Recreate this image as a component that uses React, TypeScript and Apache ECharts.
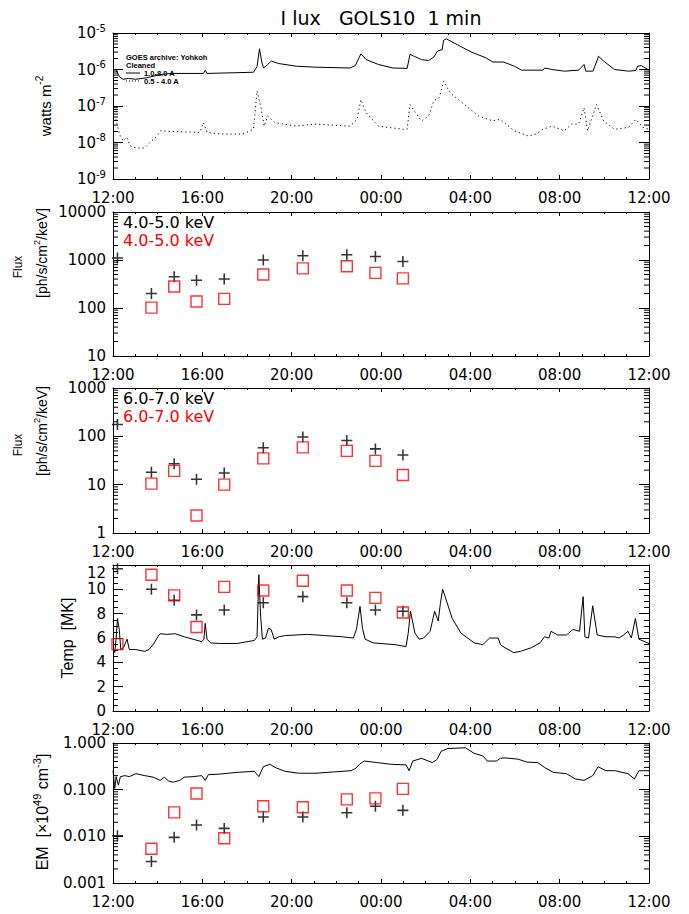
import React, { useEffect, useRef } from 'react';
import * as echarts from 'echarts';

// ---------- data (hours after 12:00 UT) ----------
const goesLong: [number, number][] = [
  [0, 9.6e-7], [0.13, 1.0e-6], [0.29, 6.3e-7], [0.45, 5.4e-7], [0.69, 5.7e-7], [1.01, 5.4e-7],
  [1.49, 5.9e-7], [2.13, 7.3e-7], [2.61, 7.8e-7], [4.05, 7.8e-7], [4.13, 9.6e-7], [4.21, 7.8e-7],
  [6.29, 8.4e-7], [6.45, 1.2e-6], [6.56, 3.7e-6], [6.66, 1.6e-6], [6.74, 1.1e-6], [6.93, 1.37e-6],
  [7.09, 1.7e-6], [7.41, 1.46e-6], [8.21, 1.23e-6], [9.01, 1.16e-6], [10.61, 1.1e-6], [10.85, 1.28e-6],
  [11.1, 2.7e-6], [11.33, 1.87e-6], [11.89, 1.37e-6], [12.53, 1.1e-6], [13.17, 1.07e-6], [13.3, 2.6e-6],
  [13.49, 2.3e-6], [13.81, 1.87e-6], [14.13, 1.76e-6], [14.37, 2.2e-6], [14.53, 3.2e-6], [14.74, 3.5e-6],
  [14.8, 6.3e-6], [14.93, 6.9e-6], [15.41, 4.8e-6], [16.05, 3.0e-6], [16.69, 2.1e-6], [17.01, 1.6e-6],
  [17.49, 1.6e-6], [17.97, 1.23e-6], [18.29, 9.6e-7], [19.25, 9.6e-7], [19.33, 1.1e-6], [19.65, 1.0e-6],
  [20.21, 9.0e-7], [20.85, 9.6e-7], [21.09, 1.37e-6], [21.17, 9.0e-7], [21.49, 9.0e-7], [21.74, 2.3e-6],
  [21.97, 1.7e-6], [22.45, 1.0e-6], [23.09, 9.0e-7], [23.41, 9.4e-7], [23.49, 1.23e-6], [23.65, 1.28e-6],
  [24.0, 9.6e-7],
];

const goesShort: [number, number][] = [
  [0, 3.5e-8], [0.13, 4.3e-8], [0.29, 1.7e-8], [0.45, 1.1e-8], [0.61, 1.4e-8], [0.77, 8.1e-9],
  [1.01, 7.1e-9], [1.41, 7.1e-9], [1.65, 1.0e-8], [1.97, 1.5e-8], [2.13, 2.1e-8], [2.61, 2.0e-8],
  [3.89, 1.9e-8], [4.05, 3.5e-8], [4.21, 1.9e-8], [4.85, 1.7e-8], [5.81, 1.7e-8], [6.29, 2.3e-8],
  [6.45, 2.6e-7], [6.61, 1.0e-7], [6.77, 2.8e-8], [6.93, 5.3e-8], [7.25, 3.5e-8], [8.21, 2.8e-8],
  [9.01, 3.2e-8], [10.61, 2.8e-8], [10.93, 4.3e-8], [11.1, 1.5e-7], [11.33, 6.6e-8], [11.89, 2.8e-8],
  [13.01, 2.3e-8], [13.17, 2.3e-8], [13.3, 1.1e-7], [13.49, 7.3e-8], [13.81, 3.9e-8], [14.13, 5.3e-8],
  [14.37, 1.4e-7], [14.61, 1.7e-7], [14.8, 4.8e-7], [15.09, 2.3e-7], [15.73, 1.1e-7], [16.37, 5.3e-8],
  [17.01, 3.9e-8], [17.33, 4.3e-8], [17.97, 2.1e-8], [18.61, 1.5e-8], [18.93, 1.7e-8], [19.25, 2.3e-8],
  [19.65, 2.8e-8], [20.21, 2.1e-8], [20.53, 3.2e-8], [20.85, 3.2e-8], [21.09, 9.0e-8], [21.25, 2.1e-8],
  [21.65, 1.1e-7], [21.97, 3.9e-8], [22.45, 2.3e-8], [23.09, 2.6e-8], [23.41, 4.3e-8], [23.73, 2.6e-8],
  [24.0, 2.3e-8],
];

const tempLine: [number, number][] = [
  [0, 5.05], [0.08, 4.8], [0.14, 6.0], [0.2, 7.6], [0.28, 6.7], [0.35, 5.05], [0.47, 5.2], [0.63, 5.9],
  [0.73, 5.05], [1.02, 5.05], [1.42, 4.9], [1.61, 5.05], [1.81, 5.5], [2.01, 6.1], [2.11, 6.35], [2.4, 6.3],
  [2.79, 6.35], [3.19, 6.1], [3.58, 5.9], [3.97, 5.7], [4.07, 5.9], [4.13, 7.2], [4.21, 5.9], [4.37, 5.6],
  [4.76, 5.55], [5.55, 5.55], [6.33, 5.8], [6.45, 6.1], [6.53, 11.2], [6.61, 7.8], [6.69, 5.9], [6.83, 6.0],
  [6.96, 6.8], [7.08, 6.7], [7.22, 5.9], [7.42, 6.1], [7.71, 6.2], [8.7, 6.3], [9.48, 6.2], [10.27, 6.1],
  [10.76, 6.0], [10.9, 6.7], [11.06, 8.6], [11.17, 6.8], [11.29, 5.9], [11.65, 5.6], [12.63, 5.45],
  [13.12, 5.3], [13.22, 6.4], [13.32, 8.2], [13.52, 6.4], [13.71, 5.9], [13.91, 6.0], [14.2, 6.55],
  [14.4, 8.2], [14.56, 7.4], [14.66, 8.85], [14.76, 10.0], [14.89, 9.3], [15.19, 7.6], [15.58, 6.4],
  [16.17, 5.6], [16.56, 5.45], [16.86, 6.0], [17.25, 6.0], [17.35, 5.45], [17.55, 5.2], [17.94, 4.8],
  [18.24, 4.9], [18.73, 5.2], [19.12, 5.6], [19.32, 6.1], [19.52, 6.0], [19.61, 6.55], [19.91, 6.25],
  [20.3, 6.25], [20.6, 6.7], [20.89, 6.55], [21.05, 9.4], [21.13, 6.1], [21.29, 6.0], [21.48, 8.65],
  [21.68, 6.25], [22.07, 6.1], [22.47, 6.1], [22.66, 6.0], [22.86, 6.25], [23.06, 6.55], [23.21, 6.0],
  [23.39, 7.6], [23.55, 5.9], [24.0, 5.55],
];

const emLine: [number, number][] = [
  [0, 0.255], [0.08, 0.106], [0.14, 0.19], [0.24, 0.125], [0.33, 0.19], [0.53, 0.2], [0.73, 0.19],
  [1.02, 0.22], [1.42, 0.2], [1.81, 0.185], [2.11, 0.158], [2.3, 0.185], [2.5, 0.152], [2.7, 0.145],
  [2.99, 0.158], [3.19, 0.185], [3.58, 0.19], [3.97, 0.2], [4.13, 0.158], [4.27, 0.21], [4.76, 0.215],
  [5.55, 0.235], [6.33, 0.247], [6.53, 0.19], [6.73, 0.31], [7.02, 0.35], [7.32, 0.29], [7.71, 0.247],
  [8.3, 0.225], [9.09, 0.225], [9.88, 0.24], [10.66, 0.255], [10.86, 0.285], [11.06, 0.36], [11.25, 0.41],
  [11.84, 0.38], [12.43, 0.35], [13.12, 0.34], [13.26, 0.255], [13.42, 0.41], [13.81, 0.47], [14.3, 0.38],
  [14.5, 0.44], [14.7, 0.67], [14.99, 0.76], [15.78, 0.79], [16.17, 0.6], [16.56, 0.53], [16.76, 0.41],
  [17.16, 0.41], [17.35, 0.47], [17.55, 0.48], [18.14, 0.45], [18.53, 0.39], [19.02, 0.38], [19.32, 0.3],
  [19.71, 0.235], [20.3, 0.22], [20.7, 0.17], [21.09, 0.158], [21.48, 0.2], [21.72, 0.31], [22.07, 0.255],
  [22.47, 0.255], [23.06, 0.22], [23.35, 0.17], [23.55, 0.255], [24.0, 0.255],
];

const obsHours = [0.2, 1.72, 2.74, 3.74, 4.98, 6.73, 8.5, 10.47, 11.75, 12.98];
const flux45Black = [1100, 200, 450, 380, 400, 1000, 1230, 1280, 1180, 930];
const flux45Red = [null, 102, 280, 137, 155, 500, 670, 740, 540, 415];
const flux67Black = [175, 18, 27, 13, 17.5, 58, 97, 82, 55, 41];
const flux67Red = [null, 10.5, 19.3, 2.3, 10, 35, 59, 50, 31, 15.8];
const tempBlack = [11.7, 10.0, 9.1, 7.9, 8.3, 8.9, 9.4, 8.9, 8.3, 8.2];
const tempRed = [5.5, 11.2, 9.5, 6.9, 10.2, 9.9, 10.7, 9.9, 9.3, 8.1];
const emBlack = [0.0103, 0.0029, 0.0095, 0.0175, 0.0148, 0.026, 0.026, 0.032, 0.044, 0.036];
const emRed = [null, 0.0054, 0.0326, 0.083, 0.0091, 0.044, 0.042, 0.062, 0.065, 0.104];

const xTickHours = [0, 4, 8, 12, 16, 20, 24];
const xTickLabels = ['12:00', '16:00', '20:00', '00:00', '04:00', '08:00', '12:00'];

// ---------- layout ----------
const LEFT = 113;
const RIGHT = 40;
const PANELS = [
  { top: 33, height: 146 },
  { top: 212, height: 144 },
  { top: 388, height: 145 },
  { top: 565, height: 146 },
  { top: 743, height: 140 },
];

const TICK_FONT = 'DejaVu Sans';
const TITLE_FONT = 'Liberation Sans';
const CROSS = 'path://M4.3,0H5.7V4.3H10V5.7H5.7V10H4.3V5.7H0V4.3H4.3Z';

function pairs(xs: number[], ys: (number | null)[]) {
  const out: [number, number][] = [];
  xs.forEach((x, i) => {
    const y = ys[i];
    if (y !== null && y !== undefined) out.push([x, y]);
  });
  return out;
}

function logMinor(minExp: number, maxExp: number) {
  const out: [number, number][] = [];
  for (let e = minExp; e < maxExp; e++) {
    for (let k = 2; k <= 9; k++) out.push([0, k * Math.pow(10, e)]);
  }
  return out;
}

export default function App() {
  const ref = useRef<HTMLDivElement>(null);

  useEffect(() => {
    if (!ref.current) return;
    const chart = echarts.init(ref.current, undefined, { renderer: 'svg' });

    const axisLine = { show: true, onZero: false, lineStyle: { color: '#000', width: 1 } };
    const xAxes: any[] = [];
    const yAxes: any[] = [];
    const grids: any[] = [];

    const yDefs: any[] = [
      {
        type: 'log', min: 1e-9, max: 1e-5,
        formatter: (v: number) => `{b|10}{s|${Math.round(Math.log10(v))}}`,
        rich: true,
      },
      { type: 'log', min: 10, max: 10000, formatter: (v: number) => String(Math.round(v)) },
      { type: 'log', min: 1, max: 1000, formatter: (v: number) => String(Math.round(v)) },
      { type: 'value', min: 0, max: 12, interval: 2, formatter: (v: number) => String(v), shiftEnds: true },
      { type: 'log', min: 0.001, max: 1, formatter: (v: number) => v.toFixed(3) },
    ];

    PANELS.forEach((p, i) => {
      grids.push({ left: LEFT, right: RIGHT, top: p.top, height: p.height, containLabel: false });
      const xBase = {
        type: 'value', gridIndex: i, min: 0, max: 24, interval: 4,
        axisLine, splitLine: { show: false },
        axisTick: { show: true, inside: true, length: 4, lineStyle: { color: '#000' } },
        minorTick: { show: true, splitNumber: 4, length: 2, lineStyle: { color: '#000' } },
      };
      xAxes.push({
        ...xBase, position: 'bottom',
        axisLabel: {
          show: true, margin: 11, color: '#000', fontFamily: TICK_FONT, fontSize: 15,
          formatter: (v: number) => xTickLabels[xTickHours.indexOf(Math.round(v))] ?? '',
        },
      });
      xAxes.push({ ...xBase, position: 'top', axisLabel: { show: false } });

      const d = yDefs[i];
      const yBase: any = {
        type: d.type, gridIndex: i, min: d.min, max: d.max,
        axisLine, splitLine: { show: false },
        axisTick: { show: true, inside: true, length: 10, lineStyle: { color: '#000' } },
      };
      if (d.type === 'log') yBase.logBase = 10;
      if (d.interval) {
        yBase.interval = d.interval;
        yBase.minorTick = { show: true, splitNumber: 4, length: 5, lineStyle: { color: '#000' } };
      }
      const label: any = {
        show: true, margin: 7, color: '#000', fontFamily: TICK_FONT, fontSize: 15, formatter: d.formatter,
      };
      if (d.shiftEnds) {
        label.verticalAlignMaxLabel = 'top';
      }
      if (d.rich) {
        label.rich = {
          b: { fontFamily: TICK_FONT, fontSize: 15, lineHeight: 20, color: '#000' },
          s: { fontFamily: TICK_FONT, fontSize: 10, lineHeight: 10, verticalAlign: 'top', color: '#000' },
        };
      }
      yAxes.push({ ...yBase, position: 'left', axisLabel: label });
      yAxes.push({ ...yBase, position: 'right', axisLabel: { show: false } });
    });

    const lineSeries = (idx: number, data: [number, number][], dotted = false) => ({
      type: 'line', xAxisIndex: idx * 2, yAxisIndex: idx * 2, data, symbol: 'none', silent: true,
      lineStyle: { color: '#000', width: 1, type: dotted ? [1.2, 3] : 'solid' },
      z: 2,
    });
    const crossSeries = (idx: number, data: [number, number][]) => ({
      type: 'scatter', xAxisIndex: idx * 2, yAxisIndex: idx * 2, data, symbol: CROSS, symbolSize: 11,
      itemStyle: { color: '#000' }, silent: true, z: 3,
    });
    const squareSeries = (idx: number, data: [number, number][]) => ({
      type: 'scatter', xAxisIndex: idx * 2, yAxisIndex: idx * 2, data, symbol: 'rect', symbolSize: 11,
      itemStyle: { color: 'rgba(0,0,0,0)', borderColor: '#ff0000', borderWidth: 1.4 }, silent: true, z: 4,
    });
    const minorSeries = (idx: number, data: [number, number][]) => ({
      type: 'custom', xAxisIndex: idx * 2, yAxisIndex: idx * 2, data, silent: true, clip: false,
      renderItem: (_params: any, api: any) => {
        const v = api.value(1);
        const l = api.coord([0, v]);
        const r = api.coord([24, v]);
        return {
          type: 'group',
          children: [
            { type: 'line', shape: { x1: l[0], y1: l[1], x2: l[0] + 5, y2: l[1] }, style: { stroke: '#000', lineWidth: 1 } },
            { type: 'line', shape: { x1: r[0] - 5, y1: r[1], x2: r[0], y2: r[1] }, style: { stroke: '#000', lineWidth: 1 } },
          ],
        };
      },
    });

    const series: any[] = [
      minorSeries(0, logMinor(-9, -5)),
      lineSeries(0, goesLong),
      lineSeries(0, goesShort, true),
      minorSeries(1, logMinor(1, 4)),
      crossSeries(1, pairs(obsHours, flux45Black)),
      squareSeries(1, pairs(obsHours, flux45Red)),
      minorSeries(2, logMinor(0, 3)),
      crossSeries(2, pairs(obsHours, flux67Black)),
      squareSeries(2, pairs(obsHours, flux67Red)),
      lineSeries(3, tempLine),
      crossSeries(3, pairs(obsHours, tempBlack)),
      squareSeries(3, pairs(obsHours, tempRed)),
      minorSeries(4, logMinor(-3, 0)),
      lineSeries(4, emLine),
      crossSeries(4, pairs(obsHours, emBlack)),
      squareSeries(4, pairs(obsHours, emRed)),
    ];

    const vtext = (x: number, y: number, text: string, size: number, rich?: any) => ({
      type: 'text', x, y, rotation: Math.PI / 2,
      style: {
        text, fill: '#000', fontFamily: TITLE_FONT, fontSize: size,
        textAlign: 'center', textVerticalAlign: 'middle', align: 'center', verticalAlign: 'middle',
        rich,
      },
    });
    const supRich = (size: number) => ({
      b: { fontFamily: TITLE_FONT, fontSize: size, lineHeight: size + 6, fill: '#000', color: '#000' },
      s: { fontFamily: TITLE_FONT, fontSize: size - 5, lineHeight: size - 5, verticalAlign: 'top', fill: '#000', color: '#000' },
    });
    const htext = (x: number, y: number, text: string, size: number, color = '#000', family = TICK_FONT, weight = 'normal') => ({
      type: 'text', x, y,
      style: {
        text, fill: color, fontFamily: family, fontSize: size, fontWeight: weight,
        textAlign: 'left', textVerticalAlign: 'middle', align: 'left', verticalAlign: 'middle',
      },
    });

    const graphic: any[] = [
      {
        type: 'text', x: 381, y: 18,
        style: {
          text: 'I lux   GOLS10  1 min', fill: '#000', fontFamily: TICK_FONT, fontSize: 19,
          textAlign: 'center', textVerticalAlign: 'middle', align: 'center', verticalAlign: 'middle',
        },
      },
      htext(126, 57, 'GOES archive: Yohkoh', 7.5, '#000', TITLE_FONT, 'bold'),
      htext(126, 65, 'Cleaned', 7.5, '#000', TITLE_FONT, 'bold'),
      { type: 'line', shape: { x1: 126, y1: 73, x2: 140, y2: 73 }, style: { stroke: '#000', lineWidth: 1 } },
      htext(144, 73, '1.0-8.0 A', 7.5, '#000', TITLE_FONT, 'bold'),
      { type: 'line', shape: { x1: 126, y1: 81, x2: 140, y2: 81 }, style: { stroke: '#000', lineWidth: 1, lineDash: [1, 2] } },
      htext(144, 81, '0.5 - 4.0 A', 7.5, '#000', TITLE_FONT, 'bold'),
      vtext(45, 106, '{b|watts m}{s|-2}', 15, supRich(15)),
      vtext(18, 267, 'Flux', 12),
      vtext(42, 253, '{b|[ph/s/cm}{s|2}{b|/keV]}', 14, supRich(14)),
      vtext(18, 445, 'Flux', 12),
      vtext(42, 431, '{b|[ph/s/cm}{s|2}{b|/keV]}', 14, supRich(14)),
      vtext(67, 638, 'Temp  [MK]', 16),
      vtext(42, 812, '{b|EM  [×10}{s|49}{b| cm}{s|-3}{b|]}', 16, supRich(16)),
      htext(123, 222, '4.0-5.0 keV', 16),
      htext(123, 240, '4.0-5.0 keV', 16, '#ff0000'),
      htext(123, 398, '6.0-7.0 keV', 16),
      htext(123, 416, '6.0-7.0 keV', 16, '#ff0000'),
    ];

    chart.setOption({
      animation: false,
      backgroundColor: '#fff',
      grid: grids,
      xAxis: xAxes,
      yAxis: yAxes,
      series,
      graphic,
    });

    return () => chart.dispose();
  }, []);

  return (
    <div
      ref={ref}
      style={{ position: 'fixed', left: 0, top: 0, width: 689, height: 914, background: '#fff' }}
    />
  );
}
